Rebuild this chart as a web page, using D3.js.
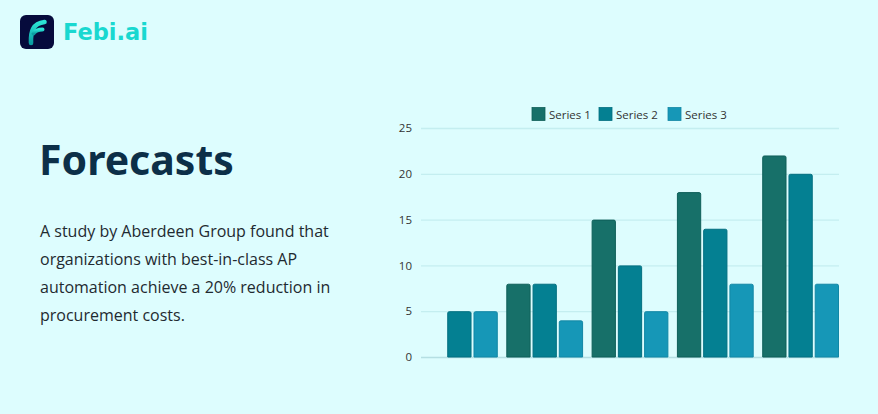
<!DOCTYPE html>
<html>
<head>
<meta charset="utf-8">
<script src="https://cdn.jsdelivr.net/npm/d3@7"></script>
<style>
  html, body { margin: 0; padding: 0; background: #ddfdfe; }
  svg { display: block; }
</style>
</head>
<body>
<div id="viz-container"></div>
<script>
const categories = ["A", "B", "C", "D", "E"];
const seriesNames = ["Series 1", "Series 2", "Series 3"];
const series1 = [0, 8, 15, 18, 22];
const series2 = [5, 8, 10, 14, 20];
const series3 = [5, 4, 5, 8, 8];
const yTicks = [0, 5, 10, 15, 20, 25];
const paragraph = [
  "A study by Aberdeen Group found that",
  "organizations with best-in-class AP",
  "automation achieve a 20% reduction in",
  "procurement costs.",
];

const colors = {
  "Series 1": "#177069",
  "Series 2": "#048092",
  "Series 3": "#1697b7",
};
const strokes = {
  "Series 1": "#0f5f59",
  "Series 2": "#036f80",
  "Series 3": "#1287a5",
};

const width = 878;
const height = 414;

const svg = d3
  .select("#viz-container")
  .append("svg")
  .attr("width", width)
  .attr("height", height);

svg.append("rect").attr("width", width).attr("height", height).attr("fill", "#ddfdfe");

// logo
const defs = svg.append("defs");
const grad = defs
  .append("linearGradient")
  .attr("id", "logoGrad")
  .attr("x1", "0")
  .attr("y1", "0")
  .attr("x2", "0")
  .attr("y2", "1");
grad.append("stop").attr("offset", "0%").attr("stop-color", "#2ce6d6");
grad.append("stop").attr("offset", "100%").attr("stop-color", "#0b9ea2");

svg
  .append("rect")
  .attr("x", 20)
  .attr("y", 15)
  .attr("width", 34)
  .attr("height", 34)
  .attr("rx", 6)
  .attr("fill", "#060b3c");
svg
  .append("path")
  .attr("d", "M31 43 C30.5 31 33 23.5 44.5 22")
  .attr("fill", "none")
  .attr("stroke", "url(#logoGrad)")
  .attr("stroke-width", 4.6)
  .attr("stroke-linecap", "round");
svg
  .append("path")
  .attr("d", "M33.5 33.5 C35.5 30.5 38.5 29.5 42.5 29.5")
  .attr("fill", "none")
  .attr("stroke", "url(#logoGrad)")
  .attr("stroke-width", 4)
  .attr("stroke-linecap", "round");
svg
  .append("text")
  .attr("x", 63)
  .attr("y", 40)
  .attr("font-family", "'DejaVu Sans', sans-serif")
  .attr("font-weight", 700)
  .attr("font-size", 22.5)
  .attr("fill", "#19d8d0")
  .text("Febi.ai");

// title + text
svg
  .append("text")
  .attr("x", 39)
  .attr("y", 175)
  .attr("font-family", "'Noto Sans', 'Open Sans', sans-serif")
  .attr("font-weight", 700)
  .attr("font-size", 41)
  .attr("fill", "#0c2f48")
  .text("Forecasts");

svg
  .append("g")
  .selectAll("text")
  .data(paragraph)
  .join("text")
  .attr("x", 40)
  .attr("y", (d, i) => 237 + i * 28)
  .attr("font-family", "'Open Sans', sans-serif")
  .attr("font-size", 16)
  .attr("fill", "#1f2a30")
  .text((d) => d);

// chart
const plot = { left: 421, right: 839, top: 128, bottom: 357 };

const x0 = d3
  .scaleBand()
  .domain(categories)
  .range([plot.left, plot.right])
  .paddingInner(0.1)
  .paddingOuter(0);
const x1 = d3
  .scaleBand()
  .domain(seriesNames)
  .range([0, x0.bandwidth()])
  .paddingInner(0.075)
  .paddingOuter(0);
const y = d3.scaleLinear().domain([0, 25]).range([plot.bottom, plot.top]);

const yAxis = d3.axisLeft(y).tickValues(yTicks).tickSize(-(plot.right - plot.left)).tickPadding(9);
const axisG = svg
  .append("g")
  .attr("transform", `translate(${plot.left},0)`)
  .call(yAxis);
axisG.select(".domain").remove();
axisG.selectAll(".tick line").attr("stroke", "#c4eef0").attr("stroke-width", 1.3);
axisG
  .selectAll(".tick text")
  .attr("fill", "#333")
  .attr("font-family", "'Open Sans', sans-serif")
  .attr("font-size", 11.5);
axisG
  .selectAll(".tick")
  .filter((d) => d === 0)
  .select("line")
  .attr("stroke", "#b5dfe3");

const rows = categories.map((c, i) => ({
  cat: c,
  values: [series1[i], series2[i], series3[i]],
}));

const groups = svg
  .append("g")
  .selectAll("g")
  .data(rows)
  .join("g")
  .attr("transform", (d) => `translate(${x0(d.cat)},0)`);

groups
  .selectAll("path")
  .data((d) => d.values.map((v, j) => ({ s: seriesNames[j], v })).filter((e) => e.v > 0))
  .join("path")
  .attr("d", (d) => {
    const bx = x1(d.s) + 0.5;
    const bw = x1.bandwidth() - 1;
    const top = y(d.v) + 0.5;
    const bot = y(0);
    const r = 1.5;
    return `M${bx},${bot} V${top + r} Q${bx},${top} ${bx + r},${top} H${bx + bw - r} Q${bx + bw},${top} ${bx + bw},${top + r} V${bot} Z`;
  })
  .attr("fill", (d) => colors[d.s])
  .attr("stroke", (d) => strokes[d.s])
  .attr("stroke-width", 1);

// legend
const legendX = [532, 599, 668];
const legend = svg
  .append("g")
  .selectAll("g")
  .data(seriesNames)
  .join("g")
  .attr("transform", (d, i) => `translate(${legendX[i]},107.5)`);
legend
  .append("rect")
  .attr("width", 13)
  .attr("height", 13)
  .attr("fill", (d) => colors[d])
  .attr("stroke", (d) => strokes[d])
  .attr("stroke-width", 0.8);
legend
  .append("text")
  .attr("x", 17)
  .attr("y", 11)
  .attr("font-family", "'Open Sans', sans-serif")
  .attr("font-size", 11.5)
  .attr("fill", "#333")
  .text((d) => d);
</script>
</body>
</html>
